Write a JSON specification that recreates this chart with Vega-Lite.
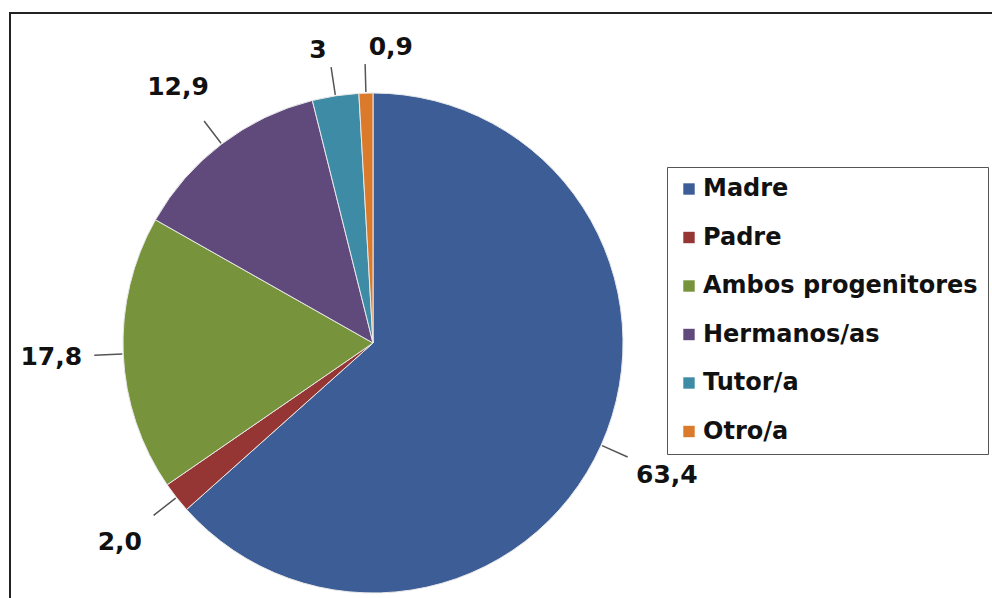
{
  "$schema": "https://vega.github.io/schema/vega-lite/v6.json",
  "width": 982,
  "height": 585,
  "padding": {"left": 10, "top": 13, "right": 0, "bottom": 0},
  "autosize": {"type": "none"},
  "background": "white",
  "config": {
    "view": {"stroke": null},
    "font": "DejaVu Sans"
  },
  "data": {
    "values": [
      {"categoria": "Madre", "valor": 63.4, "etiqueta": "63,4"},
      {"categoria": "Padre", "valor": 2.0, "etiqueta": "2,0"},
      {"categoria": "Ambos progenitores", "valor": 17.8, "etiqueta": "17,8"},
      {"categoria": "Hermanos/as", "valor": 12.9, "etiqueta": "12,9"},
      {"categoria": "Tutor/a", "valor": 3.0, "etiqueta": "3"},
      {"categoria": "Otro/a", "valor": 0.9, "etiqueta": "0,9"}
    ]
  },
  "transform": [{"window": [{"op": "row_number", "as": "idx"}]}],
  "resolve": {"scale": {"theta": "independent"}},
  "encoding": {
    "theta": {"field": "valor", "type": "quantitative", "stack": true},
    "order": {"field": "idx", "type": "quantitative"},
    "color": {
      "field": "categoria",
      "type": "nominal",
      "sort": null,
      "scale": {
        "domain": ["Madre", "Padre", "Ambos progenitores", "Hermanos/as", "Tutor/a", "Otro/a"],
        "range": ["#3C5D96", "#953634", "#77933C", "#604A7B", "#3E8BA5", "#DC7A2C"]
      },
      "legend": {
        "title": null,
        "orient": "none",
        "legendX": 657,
        "legendY": 154,
        "padding": 10,
        "strokeColor": "#555555",
        "symbolType": "square",
        "symbolSize": 130,
        "symbolStrokeWidth": 0,
        "symbolOpacity": 1,
        "labelFont": "DejaVu Sans",
        "labelFontSize": 24,
        "labelFontWeight": "bold",
        "labelColor": "#111111",
        "labelOffset": 2,
        "labelLimit": 400,
        "rowPadding": 24.5
      }
    }
  },
  "layer": [
    {
      "data": {"values": [{"marco": 1}]},
      "transform": [],
      "mark": {"type": "rect", "filled": false, "stroke": "#222222", "strokeWidth": 2, "x2Offset": 6, "y2Offset": 6},
      "encoding": {
        "theta": null,
        "order": null,
        "color": {"value": "#222222"},
        "x": {"value": 0},
        "x2": {"value": "width"},
        "y": {"value": 0},
        "y2": {"value": "height"}
      }
    },
    {
      "mark": {"type": "arc", "radius": 250, "x": 363, "y": 330, "stroke": "#E8E8E8", "strokeWidth": 1}
    },
    {
      "mark": {"type": "arc", "radius": 279, "radius2": 251, "x": 363, "y": 330, "padAngle": 3.1416, "filled": false, "strokeWidth": 1.5},
      "encoding": {
        "color": {"value": "#555555"},
        "strokeOpacity": {"condition": {"test": "datum.categoria == 'Madre'", "value": 0}, "value": 1}
      }
    },
    {
      "transform": [{"filter": "datum.categoria == 'Madre'"}],
      "mark": {"type": "arc", "radius": 279, "radius2": 251, "x": 363, "y": 330, "filled": false, "strokeWidth": 1.5},
      "encoding": {
        "theta": {"field": "valor", "type": "quantitative", "stack": false, "scale": {"domain": [0, 100], "range": [0, 3.14159265]}},
        "theta2": {"field": "valor"},
        "order": null,
        "color": {"value": "#555555"}
      }
    },
    {
      "mark": {"type": "text", "radius": 322, "x": 363, "y": 330, "font": "DejaVu Sans", "fontSize": 25, "fontWeight": "bold"},
      "encoding": {
        "text": {"condition": {"test": "datum.valor < 4 && datum.categoria != 'Padre'", "value": ""}, "field": "etiqueta"},
        "color": {"value": "#111111"}
      }
    },
    {
      "mark": {"type": "text", "radius": 296, "x": 363, "y": 330, "align": "right", "dx": -2, "font": "DejaVu Sans", "fontSize": 25, "fontWeight": "bold"},
      "encoding": {
        "text": {"condition": {"test": "datum.categoria == 'Tutor/a'", "field": "etiqueta"}, "value": ""},
        "color": {"value": "#111111"}
      }
    },
    {
      "mark": {"type": "text", "radius": 296, "x": 363, "y": 330, "align": "left", "dx": 4, "font": "DejaVu Sans", "fontSize": 25, "fontWeight": "bold"},
      "encoding": {
        "text": {"condition": {"test": "datum.categoria == 'Otro/a'", "field": "etiqueta"}, "value": ""},
        "color": {"value": "#111111"}
      }
    }
  ]
}
